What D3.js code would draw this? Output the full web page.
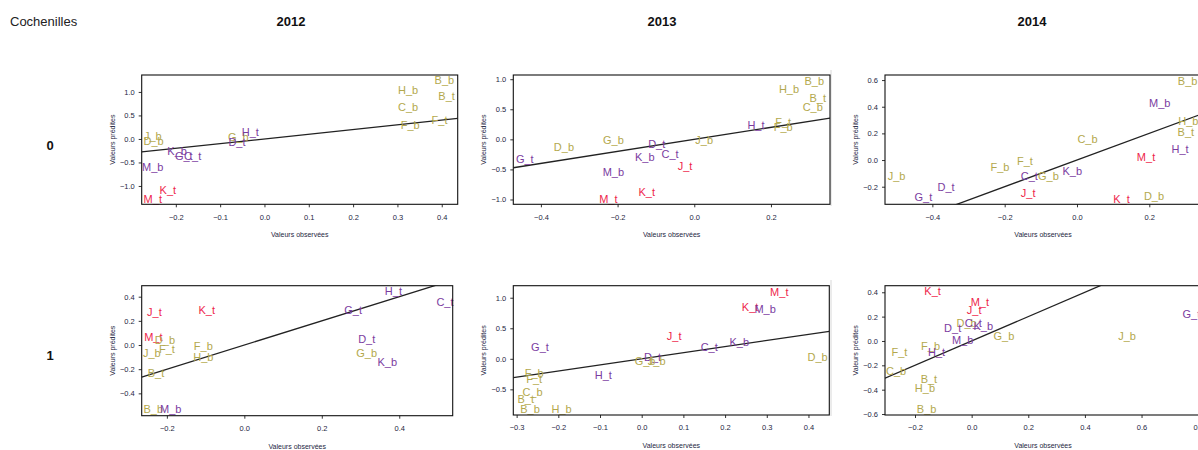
<!DOCTYPE html>
<html>
<head>
<meta charset="utf-8">
<script src="https://cdn.jsdelivr.net/npm/d3@7"></script>
<style>
  body { margin: 0; background: #fff; }
  text { font-family: "Liberation Sans", Arial, sans-serif; }
</style>
</head>
<body>
<svg id="chart"></svg>
<script>
const years = ["2012", "2013", "2014"];
const rowLabels = ["0", "1"];

// colour groups of the labels
const olive = ["B_b", "B_t", "C_b", "D_b", "F_b", "F_t", "G_b", "H_b", "J_b"];
const purple = ["C_t", "D_t", "G_t", "H_t", "K_b", "M_b"];
const red = ["J_t", "K_t", "M_t"];

// row 0
const lab_0_2012 = ["B_b","H_b","B_t","C_b","F_t","F_b","J_b","D_b","G_b","H_t","D_t","K_b","G_t","C_t","M_b","K_t","M_t"];
const obs_0_2012 = [0.406,0.324,0.411,0.324,0.395,0.329,-0.252,-0.25,-0.059,-0.032,-0.062,-0.197,-0.182,-0.162,-0.252,-0.218,-0.252];
const pred_0_2012 = [1.25,1.03,0.91,0.68,0.41,0.29,0.07,-0.05,0.04,0.14,-0.06,-0.25,-0.37,-0.36,-0.6,-1.08,-1.27];

const lab_0_2013 = ["B_b","H_b","B_t","C_b","F_t","F_b","H_t","J_b","D_t","C_t","K_b","J_t","M_b","K_t","M_t","G_b","D_b","G_t"];
const obs_0_2013 = [0.313,0.247,0.322,0.309,0.232,0.232,0.161,0.026,-0.098,-0.063,-0.129,-0.024,-0.211,-0.124,-0.224,-0.211,-0.34,-0.442];
const pred_0_2013 = [0.97,0.84,0.68,0.53,0.29,0.2,0.24,-0.01,-0.08,-0.25,-0.29,-0.44,-0.54,-0.87,-0.99,-0.01,-0.13,-0.32];

const lab_0_2014 = ["B_b","M_b","H_b","B_t","H_t","C_b","M_t","F_t","F_b","C_t","G_b","K_b","J_b","D_t","J_t","G_t","K_t","D_b"];
const obs_0_2014 = [0.306,0.229,0.308,0.301,0.285,0.029,0.191,-0.144,-0.213,-0.132,-0.079,-0.013,-0.499,-0.362,-0.135,-0.425,0.123,0.213];
const pred_0_2014 = [0.595,0.425,0.295,0.21,0.08,0.155,0.025,-0.008,-0.055,-0.12,-0.12,-0.08,-0.118,-0.205,-0.245,-0.28,-0.29,-0.27];

// row 1
const lab_1_2012 = ["H_t","C_t","G_t","J_t","K_t","M_t","D_b","F_t","J_b","F_b","H_b","D_t","G_b","K_b","B_t","B_b","M_b"];
const obs_1_2012 = [0.385,0.518,0.281,-0.232,-0.097,-0.235,-0.205,-0.2,-0.239,-0.106,-0.106,0.316,0.316,0.369,-0.228,-0.235,-0.19];
const pred_1_2012 = [0.447,0.353,0.29,0.27,0.29,0.069,0.041,-0.036,-0.069,-0.008,-0.097,0.047,-0.063,-0.138,-0.234,-0.53,-0.53];

const lab_1_2013 = ["M_t","K_t","M_b","J_t","K_b","C_t","G_t","D_b","D_t","G_b","J_b","H_t","F_b","F_t","C_b","B_t","B_b","H_b"];
const obs_1_2013 = [0.33,0.26,0.296,0.078,0.234,0.162,-0.244,0.422,0.026,0.008,0.036,-0.092,-0.258,-0.258,-0.262,-0.278,-0.268,-0.192];
const pred_1_2013 = [1.1,0.84,0.82,0.37,0.28,0.19,0.19,0.03,0.03,-0.03,-0.03,-0.27,-0.23,-0.33,-0.54,-0.66,-0.83,-0.83];

const lab_1_2014 = ["K_t","M_t","J_t","D_b","C_t","K_b","D_t","G_b","M_b","J_b","G_t","F_t","F_b","H_t","C_b","B_t","H_b","B_b"];
const obs_1_2014 = [-0.138,0.029,0.009,-0.018,0.006,0.041,-0.067,0.114,-0.032,0.549,0.776,-0.255,-0.145,-0.124,-0.267,-0.151,-0.165,-0.159];
const pred_1_2014 = [0.41,0.32,0.25,0.15,0.145,0.12,0.11,0.04,0.008,0.04,0.22,-0.088,-0.04,-0.088,-0.244,-0.312,-0.389,-0.56];

const width = 1198, height = 450;

const svg = d3.select('#chart')
  .attr('width', width)
  .attr('height', height);

function colorOf(name) {
  if (red.includes(name)) return '#ee1f4b';
  if (purple.includes(name)) return '#7b3c9f';
  return '#b3a84c';
}

// each panel: box position, axis domains, ticks, data
const panels = [
  { row: 0, col: 0, x: 141.7, y: 75, w: 316, h: 129.3, xd: [-0.277, 0.436], yd: [-1.39, 1.36],
    xt: [-0.2,-0.1,0,0.1,0.2,0.3,0.4], yt: [-1,-0.5,0,0.5,1], lab: lab_0_2012, obs: obs_0_2012, pred: pred_0_2012 },
  { row: 0, col: 1, x: 513.3, y: 75, w: 316.7, h: 129.3, xd: [-0.472, 0.354], yd: [-1.08, 1.07],
    xt: [-0.4,-0.2,0,0.2], yt: [-1,-0.5,0,0.5,1], lab: lab_0_2013, obs: obs_0_2013, pred: pred_0_2013 },
  { row: 0, col: 2, x: 885, y: 75, w: 316, h: 129.3, xd: [-0.531, 0.343], yd: [-0.332, 0.638],
    xt: [-0.4,-0.2,0,0.2], yt: [-0.2,0,0.2,0.4,0.6], lab: lab_0_2014, obs: obs_0_2014, pred: pred_0_2014 },
  { row: 1, col: 0, x: 141.7, y: 285.7, w: 311, h: 130, xd: [-0.265, 0.538], yd: [-0.585, 0.491],
    xt: [-0.2,0,0.2,0.4], yt: [-0.4,-0.2,0,0.2,0.4], lab: lab_1_2012, obs: obs_1_2012, pred: pred_1_2012 },
  { row: 1, col: 1, x: 513.3, y: 285.7, w: 316, h: 129.3, xd: [-0.308, 0.45], yd: [-0.92, 1.197],
    xt: [-0.3,-0.2,-0.1,0,0.1,0.2,0.3,0.4], yt: [-0.5,0,0.5,1], lab: lab_1_2013, obs: obs_1_2013, pred: pred_1_2013 },
  { row: 1, col: 2, x: 885, y: 285.7, w: 316, h: 129.3, xd: [-0.306, 0.81], yd: [-0.608, 0.454],
    xt: [-0.2,0,0.2,0.4,0.6,0.8], yt: [-0.6,-0.4,-0.2,0,0.2,0.4], lab: lab_1_2014, obs: obs_1_2014, pred: pred_1_2014 }
];

// header texts
svg.append('text').attr('x', 10).attr('y', 26)
  .attr('font-size', 13).attr('fill', '#222').text('Cochenilles');

const headerX = [291, 662, 1032];
svg.selectAll('.year').data(years).join('text')
  .attr('x', (d, i) => headerX[i]).attr('y', 26)
  .attr('text-anchor', 'middle').attr('font-size', 13).attr('font-weight', 'bold')
  .attr('fill', '#111').text(d => d);

const rowY = [150, 360];
svg.selectAll('.rowlab').data(rowLabels).join('text')
  .attr('x', 50).attr('y', (d, i) => rowY[i])
  .attr('text-anchor', 'middle').attr('font-size', 13).attr('font-weight', 'bold')
  .attr('fill', '#111').text(d => d);

// faint border of the third column images
svg.append('line').attr('x1', 831).attr('x2', 831).attr('y1', 70).attr('y2', 206)
  .attr('stroke', '#d8d8d8');
svg.append('line').attr('x1', 831).attr('x2', 831).attr('y1', 280).attr('y2', 416)
  .attr('stroke', '#d8d8d8');

const fmt = d3.format('.1f');
const tickColor = '#1e2642';

panels.forEach((p, i) => {
  const g = svg.append('g').attr('transform', `translate(${p.x},${p.y})`);
  const x = d3.scaleLinear().domain(p.xd).range([0, p.w]);
  const y = d3.scaleLinear().domain(p.yd).range([p.h, 0]);

  const clipId = 'clip' + i;
  g.append('clipPath').attr('id', clipId)
    .append('rect').attr('width', p.w).attr('height', p.h);

  // axes
  const xa = g.append('g').attr('transform', `translate(0,${p.h})`)
    .call(d3.axisBottom(x).tickValues(p.xt).tickFormat(fmt).tickSize(3).tickPadding(7));
  const ya = g.append('g')
    .call(d3.axisLeft(y).tickValues(p.yt).tickFormat(fmt).tickSize(3).tickPadding(4));
  [xa, ya].forEach(a => {
    a.select('.domain').remove();
    a.selectAll('text').attr('font-family', '"Liberation Sans", Arial, sans-serif')
      .attr('font-size', 7.5).attr('fill', tickColor);
    a.selectAll('line').attr('stroke', '#333');
  });

  // axis titles
  g.append('text').attr('x', p.w / 2).attr('y', p.h + 33)
    .attr('text-anchor', 'middle').attr('font-size', 7).attr('fill', tickColor)
    .text('Valeurs observées');
  g.append('text')
    .attr('transform', `translate(-27,${p.h / 2}) rotate(-90)`)
    .attr('text-anchor', 'middle').attr('font-size', 7).attr('fill', tickColor)
    .text('Valeurs prédites');

  // reference line y = x
  g.append('line')
    .attr('clip-path', `url(#${clipId})`)
    .attr('x1', x(p.xd[0])).attr('y1', y(p.xd[0]))
    .attr('x2', x(p.xd[1])).attr('y2', y(p.xd[1]))
    .attr('stroke', '#222').attr('stroke-width', 1.3);

  g.selectAll('text.pt')
    .data(p.lab.map((d, j) => ({ name: d, o: p.obs[j], v: p.pred[j] })))
    .join('text')
    .attr('class', 'pt')
    .attr('x', d => x(d.o))
    .attr('y', d => y(d.v))
    .attr('dy', '0.36em')
    .attr('text-anchor', 'middle')
    .attr('font-size', 11)
    .attr('fill', d => colorOf(d.name))
    .text(d => d.name);

  g.append('rect').attr('width', p.w).attr('height', p.h)
    .attr('fill', 'none').attr('stroke', '#111').attr('stroke-width', 1.1);
});
</script>
</body>
</html>
